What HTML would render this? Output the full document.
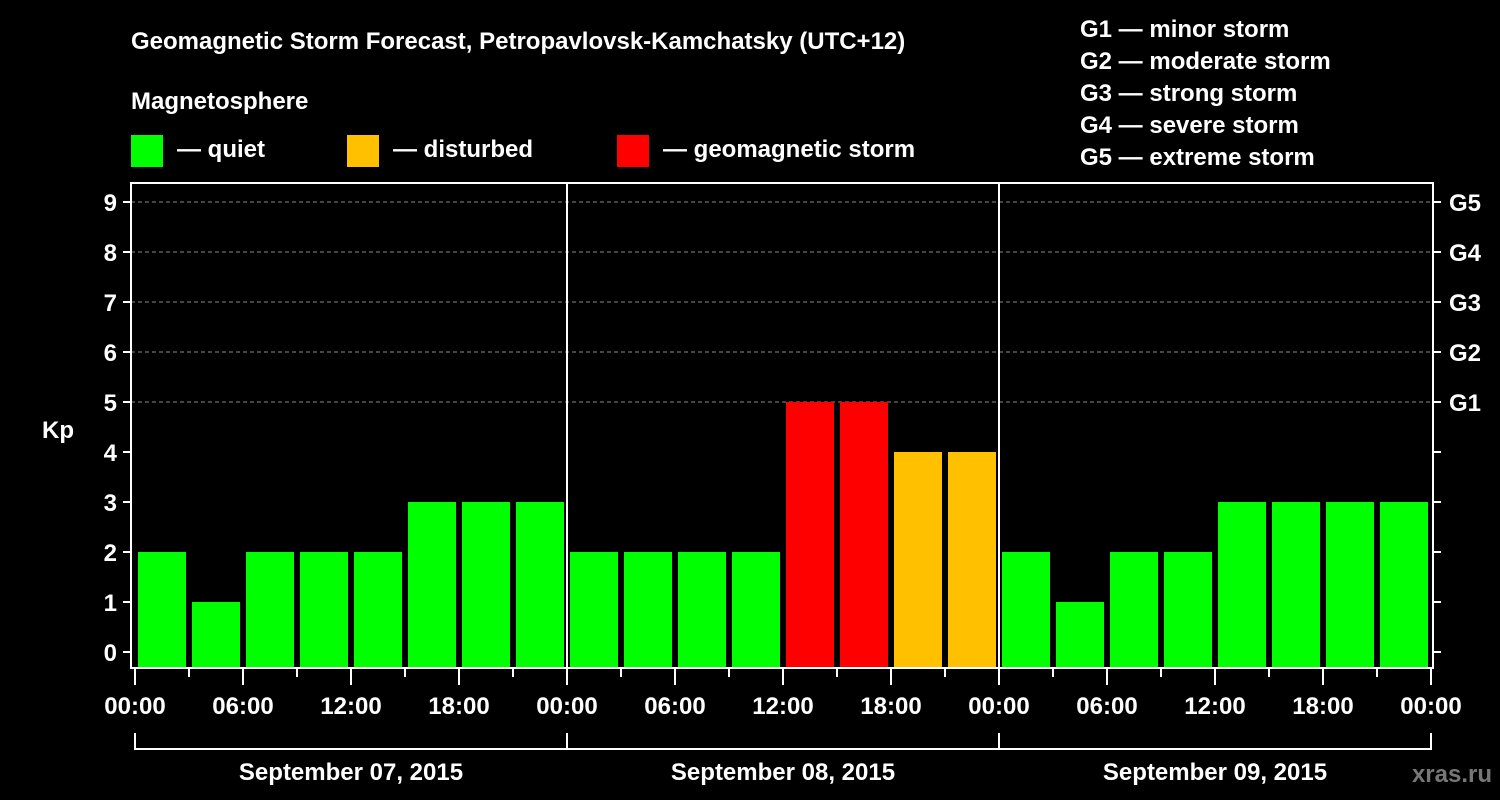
<!DOCTYPE html>
<html><head><meta charset="utf-8"><style>
html,body{margin:0;padding:0;background:#000;}
svg{display:block;font-family:"Liberation Sans",Arial,sans-serif;font-weight:bold;}
</style></head><body>
<svg id="chart" width="1500" height="800" viewBox="0 0 1500 800">
<rect x="0" y="0" width="1500" height="800" fill="#000"/>
<text x="131" y="49" fill="#fff" font-size="24">Geomagnetic Storm Forecast, Petropavlovsk-Kamchatsky (UTC+12)</text>
<text x="131" y="109" fill="#fff" font-size="24">Magnetosphere</text>
<g><rect x="131" y="135" width="32" height="32" fill="#00ff00"/><text x="177" y="157" fill="#fff" font-size="24">— quiet</text></g>
<g><rect x="347" y="135" width="32" height="32" fill="#ffc000"/><text x="393" y="157" fill="#fff" font-size="24">— disturbed</text></g>
<g><rect x="617" y="135" width="32" height="32" fill="#ff0000"/><text x="663" y="157" fill="#fff" font-size="24">— geomagnetic storm</text></g>
<g fill="#fff" font-size="24">
<text x="1080" y="37">G1 — minor storm</text>
<text x="1080" y="69">G2 — moderate storm</text>
<text x="1080" y="101">G3 — strong storm</text>
<text x="1080" y="133">G4 — severe storm</text>
<text x="1080" y="165">G5 — extreme storm</text>
</g>
<text x="42" y="438" fill="#fff" font-size="24">Kp</text>
<text x="1492" y="782" fill="#777" font-size="24" text-anchor="end">xras.ru</text>
<g id="grid"></g><g id="bars"></g><g id="axes"></g>
</svg>
<script>
const kpValues=[2,1,2,2,2,3,3,3, 2,2,2,2,5,5,4,4, 2,1,2,2,3,3,3,3];
const yTicks=[0,1,2,3,4,5,6,7,8,9];
const gLabels=["G1","G2","G3","G4","G5"];
const gLevels=[5,6,7,8,9];
const timeLabels=["00:00","06:00","12:00","18:00"];
const dayLabels=["September 07, 2015","September 08, 2015","September 09, 2015"];
const NS="http://www.w3.org/2000/svg";
const X0=135,SLOT=54,L=131,R=1433,T=183,B=668;
const y=v=>652-50*v;
const x=i=>X0+i*SLOT;
function mk(tag,attrs,parent,text){const e=document.createElementNS(NS,tag);for(const k in attrs)e.setAttribute(k,attrs[k]);if(text!==undefined)e.textContent=text;parent.appendChild(e);return e;}
const grid=document.getElementById('grid'),bars=document.getElementById('bars'),axes=document.getElementById('axes');
function color(v){return v>=5?'#ff0000':(v>=4?'#ffc000':'#00ff00');}
gLevels.forEach(v=>{const l=mk('line',{x1:L,x2:R,y1:y(v),y2:y(v),stroke:'#888','stroke-width':1,'stroke-dasharray':'4,3'},grid);

});
kpValues.forEach((v,i)=>{const r=mk('rect',{x:x(i)+3,y:y(v),width:48,height:B-y(v),fill:color(v)},bars);

});
const frame=mk('rect',{x:L,y:T,width:R-L,height:B-T,fill:'none',stroke:'#fff','stroke-width':2},axes);


[1,2].forEach(d=>{const l=mk('line',{x1:x(d*8),x2:x(d*8),y1:T,y2:B,stroke:'#fff','stroke-width':2},axes);

});
yTicks.forEach(v=>{mk('line',{x1:123,x2:L,y1:y(v),y2:y(v),stroke:'#fff','stroke-width':2},axes);
const t=mk('text',{x:117,y:y(v)+9,fill:'#fff','font-size':24,'text-anchor':'end'},axes,String(v));


mk('line',{x1:R,x2:R+8,y1:y(v),y2:y(v),stroke:'#fff','stroke-width':2},axes);});
gLevels.forEach((v,i)=>{const t=mk('text',{x:1449,y:y(v)+9,fill:'#fff','font-size':24},axes,gLabels[i]);

});
for(let i=0;i<=24;i++){const major=i%2===0;mk('line',{x1:x(i),x2:x(i),y1:B,y2:major?685:677,stroke:'#fff','stroke-width':2},axes);
if(major){const lab=i===24?timeLabels[0]:timeLabels[(i/2)%4];
const t=mk('text',{x:x(i),y:714,fill:'#fff','font-size':24,'text-anchor':'middle'},axes,lab);

}}
const br=mk('line',{x1:x(0),x2:x(24),y1:749,y2:749,stroke:'#fff','stroke-width':2},axes);


[0,8,16,24].forEach(i=>mk('line',{x1:x(i),x2:x(i),y1:733,y2:750,stroke:'#fff','stroke-width':2},axes));
dayLabels.forEach((d,k)=>{const t=mk('text',{x:x(k*8+4),y:780,fill:'#fff','font-size':24,'text-anchor':'middle'},axes,d);

});
</script>
</body></html>
